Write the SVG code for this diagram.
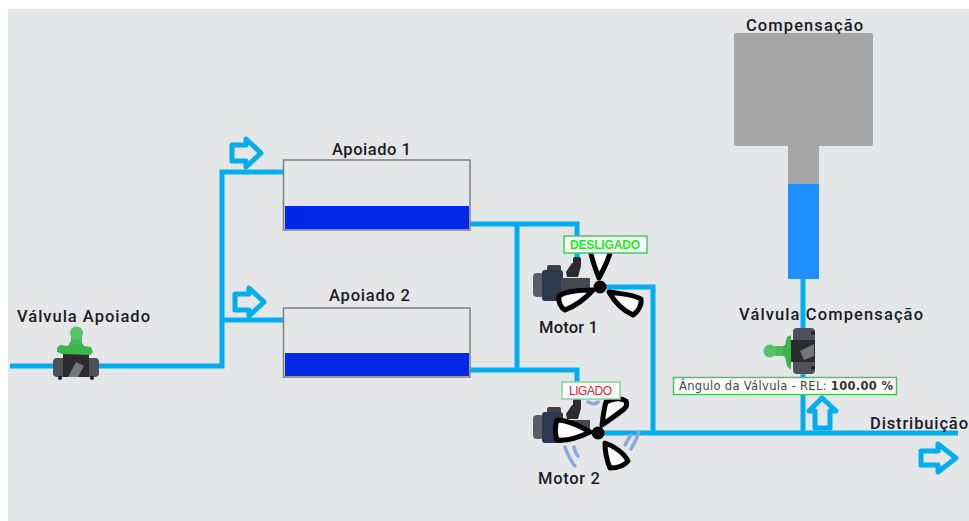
<svg xmlns="http://www.w3.org/2000/svg" width="969" height="521" viewBox="0 0 969 521">
<style>
.pipe{fill:none;stroke:#00aeef;stroke-width:5}
.arrow{fill:none;stroke:#00aeef;stroke-width:5;stroke-linejoin:round}
.tank{fill:#e4e6e8;stroke:#808080;stroke-width:1.5}
.level{fill:#0028e6}
.lbl{font-family:"Roboto","Liberation Sans",sans-serif;font-size:16.500px;font-weight:500;fill:#1c1c24}
.blade{fill:#fff;stroke:#000;stroke-width:5;stroke-linejoin:round}
.blur{fill:none;stroke:#8aa8e0;stroke-width:3.500;stroke-linecap:round}
.st{fill:#fff;stroke:#45c860;stroke-width:1.500}
.stt{font-family:"Liberation Sans",Arial,sans-serif;font-size:12px;text-anchor:start}
</style>
<defs>
<g id="valve">
<rect x="53" y="358" width="46" height="19" rx="4" fill="#4f5158"/>
<rect x="63" y="353" width="26" height="24" fill="#2c2c30"/>
<path d="M68 377 L76 362 L84 366 L78 377Z" fill="#74767c"/>
<circle cx="60" cy="378" r="2" fill="#222"/><circle cx="92" cy="378" r="2" fill="#222"/>
<path d="M57 348 L60 345 L68 346 L71 341 L81 341 L84 346 L91 347 L93 352 L90 355 L62 354 L57 352Z" fill="#3cb44a"/>
<rect x="71" y="336" width="11" height="8" fill="#48b858"/>
<circle cx="76.500" cy="333" r="6.500" fill="#55c468"/>
</g>
<g id="motor">
<rect x="547" y="-22" width="14" height="10" rx="2" fill="#3f4248"/>
<rect x="533" y="-14" width="11" height="24" rx="4" fill="#5a5d64"/>
<rect x="542" y="-17" width="21" height="31" rx="3" fill="#2b3a4e"/>
<rect x="561" y="-9" width="29" height="13" fill="#45484e"/>
<path d="M572 -24 L581 -21 L578 -10 L567 -10 L566 -15Z" fill="#2c2c30"/>
<rect x="573" y="-30" width="8" height="10" rx="2" fill="#2c2c30"/>
</g>
</defs>
<rect x="0" y="0" width="969" height="521" fill="#fff"/>
<rect x="8" y="9" width="961" height="512" fill="#e4e6e8"/>

<g id="connectors">
<path class="pipe" d="M10 366H222V172H284M222 320H284"/>
<path class="pipe" d="M470 224H577V262M517 224V370M470 370H577V410"/>
<path class="pipe" d="M600 287H653V433M598 433H958"/>
<path class="pipe" d="M803 279V433"/>
<path class="arrow" d="M232 145H246V139L261 153L246 167V161H232Z"/>
<path class="arrow" d="M235 294H249V288L264 302L249 316V310H235Z"/>
<path class="arrow" d="M921 451H938V444L956 458L938 472V465H921Z"/>
<path class="arrow" d="M815 428V411H809L822 398L836 411H830V428Z"/>
</g>

<g id="valvula-apoiado">
<use href="#valve"/>
<text class="lbl" x="17" y="322" textLength="133">Válvula Apoiado</text>
</g>

<g id="apoiado-1">
<rect class="tank" x="283.500" y="160" width="186.500" height="70"/>
<rect class="level" x="285" y="206" width="184" height="23"/>
<text class="lbl" x="332" y="155" textLength="79">Apoiado 1</text>
</g>

<g id="apoiado-2">
<rect class="tank" x="283.500" y="308" width="186.500" height="69"/>
<rect class="level" x="285" y="353" width="184" height="23"/>
<text class="lbl" x="329" y="301" textLength="81">Apoiado 2</text>
</g>

<g id="motor-1">
<use href="#motor" y="287"/>
<path class="blade" d="M599 278C595 268 591 258 590 248H611C610 258 604 268 599 278Z"/>
<path class="blade" d="M593 290C580 290 566 291 559 296C558 302 561 308 565 310C575 306 586 298 593 290Z"/>
<path class="blade" d="M609 292C620 294 633 294 641 299C642 305 638 312 633 315C622 310 614 301 609 292Z"/>
<circle cx="600" cy="287" r="6.500" fill="#000"/>
<rect class="st" x="564" y="236" width="83" height="17"/>
<text class="stt" x="570" y="249" textLength="70" fill="#1ee81e" style="font-weight:700">DESLIGADO</text>
<text class="lbl" x="539" y="333" textLength="59">Motor 1</text>
</g>

<g id="motor-2">
<use href="#motor" x="0" y="429"/>
<path class="blur" d="M588 402C592 404 596 404 598 402"/>
<path class="blur" d="M625 445C627 441 629 438 631 435M631 449C634 444 637 438 639 432"/>
<path class="blur" d="M574 447C575 451 577 455 578 456M565 447C567 453 571 461 575 466"/>
<path class="blade" d="M590 432C578 425 566 420 557 420C555 426 555 434 557 440C568 441 580 437 590 432Z"/>
<path class="blade" d="M602 425C603 417 604 408 606 402C612 399 620 397 626 401C628 406 625 408 624 409C618 414 609 420 602 425Z"/>
<path class="blade" d="M605 443C605 451 607 461 610 468C616 468 624 466 628 461C624 453 614 446 605 443Z"/>
<circle cx="598" cy="433" r="6.500" fill="#000"/>
<rect class="st" x="562" y="382" width="58" height="17" style="stroke:#86d39a"/>
<text class="stt" x="569" y="395" textLength="43" fill="#f02030">LIGADO</text>
<text class="lbl" x="538" y="484" textLength="62">Motor 2</text>
</g>

<g id="compensacao">
<path fill="#a6a6a6" d="M736 33H871Q873 33 873 35V144Q873 146 871 146H819V184H788V146H736Q734 146 734 144V35Q734 33 736 33Z"/>
<rect x="788" y="184" width="31" height="95" fill="#1e90ff"/>
<text class="lbl" x="746" y="31" textLength="117">Compensação</text>
</g>

<g id="valvula-compensacao">
<rect x="793" y="328" width="22" height="46" rx="4" fill="#4f5158"/>
<rect x="791" y="340" width="24" height="22" fill="#2c2c30"/>
<path d="M814 344 L800 351 L804 360 L814 356Z" fill="#74767c"/>
<circle cx="813" cy="333" r="2" fill="#222"/><circle cx="813" cy="368" r="2" fill="#222"/>
<path d="M791 335L787 337L785 345L781 347V355L785 357L787 366L791 370Z" fill="#3cb44a"/>
<rect x="775" y="346" width="7" height="10" fill="#48b858"/>
<circle cx="770" cy="351" r="6.500" fill="#55c468"/>
<text class="lbl" x="739" y="320" textLength="184">Válvula Compensação</text>
</g>

<g id="angulo">
<rect class="st" x="673.500" y="377.500" width="223" height="17"/>
<text x="679" y="390" textLength="214" font-family="'DejaVu Sans',Verdana,sans-serif" font-size="11.500px" fill="#444">Ângulo da Válvula - REL: <tspan font-weight="bold" fill="#333">100.00 %</tspan></text>
</g>

<g id="distribuicao">
<text class="lbl" x="870" y="429" textLength="98">Distribuição</text>
</g>
</svg>
